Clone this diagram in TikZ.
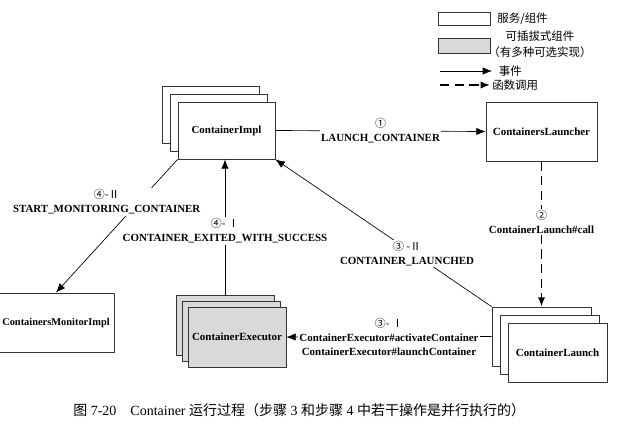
\documentclass[tikz,border=0pt]{standalone}
\usepackage{fontspec}
\setmainfont{Liberation Serif}
\newfontfamily\cjk{Noto Sans CJK SC}
\usetikzlibrary{arrows.meta,positioning}
\tikzset{
  comp/.style={draw=black!80, fill=white, line width=0.6pt, inner sep=0pt,
    minimum width=72.75pt, minimum height=42.75pt,
    font=\bfseries\fontsize{8.2}{10}\selectfont},
  plug/.style={comp, fill=gray!30},
  evt/.style={->, line width=0.5pt},
  call/.style={->, line width=1.2pt, dash pattern=on 7pt off 4pt},
  lbl/.style={fill=white, align=center, inner sep=1pt,
    font=\bfseries\fontsize{8.2}{10.5}\selectfont},
  lgd/.style={inner sep=1pt, align=center, font=\cjk\fontsize{8.6}{12}\selectfont},
}
\newcommand{\stepno}[1]{{\mdseries\cjk #1}}
\begin{document}
\begin{tikzpicture}[x=0.75pt, y=-0.75pt, line join=round,
    >={Latex[length=7pt,width=5.5pt]}]
  \useasboundingbox (0,0) rectangle (640,426);
  % legend
  \node[comp, minimum width=39pt, minimum height=9.75pt] (key-comp) at (464,18.5) {};
  \node[lgd, right=4pt of key-comp] (key-comp-txt) {服务/组件};
  \node[plug, minimum width=39pt, minimum height=11.25pt] (key-plug) at (464,45.5) {};
  \node[lgd] (key-plug-txt) at (540,44) {可插拔式组件\\（有多种可选实现）};
  \coordinate (evt-a) at (440,71);
  \coordinate (evt-b) at (492,71);
  \draw[evt] (evt-a) -- (evt-b);
  \node[lgd, right=4pt of evt-b] (evt-txt) {事件};
  \coordinate (call-a) at (440,85);
  \coordinate (call-b) at (490,85);
  \draw[call] (call-a) -- (call-b);
  \node[lgd, right=0.5pt of call-b] (call-txt) {函数调用};
  % components
  \foreach \d in {16,8} \node[comp] (impl-\d) at (226.5-\d,130.5-\d) {};
  \node[comp] (impl) at (226.5,130.5) {ContainerImpl};
  \node[comp, minimum width=83.25pt, minimum height=44.25pt] (launcher) at (541.5,131.5) {ContainersLauncher};
  \foreach \d in {16,8} \node[comp, minimum width=74.25pt, minimum height=44.25pt] (launch-\d) at (557.5-\d,352.5-\d) {};
  \node[comp, minimum width=74.25pt, minimum height=44.25pt] (launch) at (557.5,352.5) {ContainerLaunch};
  \foreach \d in {12,6} \node[plug, minimum width=73.5pt, minimum height=45pt] (exec-\d) at (237-\d,337-\d) {};
  \node[plug, minimum width=73.5pt, minimum height=45pt] (exec) at (237,337) {ContainerExecutor};
  \node[comp, minimum width=87pt, minimum height=44.25pt, font=\bfseries\fontsize{7.8}{10}\selectfont] (mon) at (56,322.5) {ContainersMonitorImpl};
  % events and calls
  \draw[evt] (impl.east) -- node[lbl] {\stepno{①}\\LAUNCH\_CONTAINER} (launcher.west);
  \draw[call] (launcher.south) -- node[lbl, pos=0.42] {\stepno{②}\\ContainerLaunch\#call} (launch-16.north);
  \draw[evt] (launch-16.west) -- node[lbl] {\stepno{③- Ⅰ}\\ContainerExecutor\#activateContainer\\ContainerExecutor\#launchContainer} (exec.east);
  \draw[evt] (launch-16.north west) -- node[lbl, pos=0.36, xshift=-5pt] {\stepno{③ -Ⅱ}\\CONTAINER\_LAUNCHED} (impl.south east);
  \draw[evt] (exec-12.north) -- node[lbl, pos=0.47] {\stepno{④- Ⅰ}\\CONTAINER\_EXITED\_WITH\_SUCCESS} (impl.south -| exec-12.north);
  \draw[evt] (impl.south west) -- node[lbl, pos=0.32, xshift=-24pt] {\stepno{④-Ⅱ}\\START\_MONITORING\_CONTAINER} (mon.north);
  % caption
  \node[anchor=west, inner sep=0pt, font=\fontsize{10.5}{12}\selectfont] (cap) at (73,410)
    {{\cjk 图} 7-20\hspace{1em}Container {\cjk 运行过程（步骤} 3 {\cjk 和步骤} 4 {\cjk 中若干操作是并行执行的）}};
\end{tikzpicture}
\end{document}
